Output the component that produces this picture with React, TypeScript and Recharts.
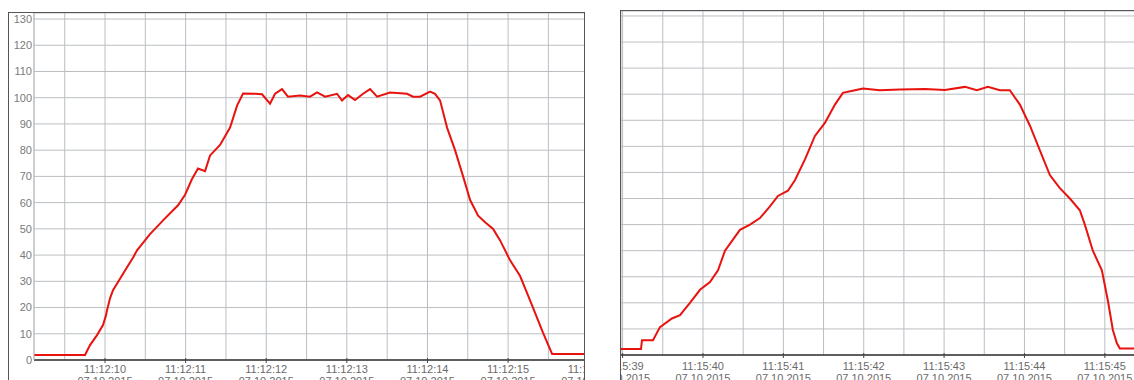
import React from 'react';
import { LineChart, Line, XAxis, YAxis, CartesianGrid } from 'recharts';

// left run, seconds of 11:12:xx
const leftTime = [
  9.119, 9.752, 9.814, 9.901, 9.975, 10.012, 10.025, 10.062, 10.099, 10.186, 10.273, 10.347, 10.397,
  10.558, 10.744, 10.906, 10.993, 11.079, 11.154, 11.241, 11.303, 11.427, 11.551, 11.638, 11.712,
  11.861, 11.948, 12.047, 12.109, 12.196, 12.27, 12.419, 12.543, 12.63, 12.73, 12.878, 12.94,
  13.015, 13.102, 13.201, 13.288, 13.375, 13.536, 13.747, 13.821, 13.908, 14.032, 14.094, 14.156,
  14.243, 14.342, 14.442, 14.529, 14.628, 14.715, 14.814, 14.901, 15.025, 15.149, 15.236, 15.335,
  15.434, 15.546, 16.5,
];
const leftValue = [
  1.9, 1.9, 5.7, 9.5, 13.3, 17, 19, 23.5, 26.6, 31, 35.4, 39, 41.8,
  48, 54, 59, 63, 69, 73, 72, 78, 82, 88.6, 97, 101.6,
  101.5, 101.3, 97.7, 101.5, 103.3, 100.4, 100.8, 100.4, 102, 100.4, 101.5, 98.9,
  101, 99.1, 101.5, 103.3, 100.4, 102, 101.5, 100.4, 100.4, 102.3, 101.5, 99,
  88.6, 80, 70, 61, 55, 52.5, 50, 45.6, 38, 32, 25.5, 18,
  10.3, 2.3, 2.3,
];

// right run, seconds of 11:15:xx
const rightTime = [
  38.98, 39.229, 39.241, 39.378, 39.465, 39.614, 39.714, 39.838, 39.963, 40.087, 40.187, 40.274,
  40.46, 40.585, 40.709, 40.833, 40.933, 41.057, 41.144, 41.269, 41.393, 41.517, 41.642, 41.741,
  41.891, 41.99, 42.201, 42.45, 42.761, 43.01, 43.259, 43.408, 43.545, 43.694, 43.818, 43.943,
  44.067, 44.192, 44.316, 44.44, 44.565, 44.689, 44.751, 44.851, 44.963, 45.037, 45.1, 45.149,
  45.187, 45.45,
];
const rightValue = [
  2.3, 2.3, 5.7, 5.7, 10.7, 14, 15.3, 20, 25, 28, 32.5, 40,
  48, 50, 52.5, 57, 61, 63, 67, 75, 84, 89, 96, 100.5,
  101.5, 102.2, 101.5, 101.8, 102, 101.6, 102.8, 101.5, 102.8, 101.5, 101.5, 96,
  88, 78.5, 69, 64, 60, 55.5, 50, 40, 32.5, 21, 9.6, 4.6,
  2.5, 2.5,
];

const yTicks = [0, 10, 20, 30, 40, 50, 60, 70, 80, 90, 100, 110, 120, 130];

const leftGridTicks = [9.5, 10, 10.5, 11, 11.5, 12, 12.5, 13, 13.5, 14, 14.5, 15, 15.5, 16, 16.5];
const leftLabelSeconds = [10, 11, 12, 13, 14, 15, 16];
const leftLabels = ['11:12:10', '11:12:11', '11:12:12', '11:12:13', '11:12:14', '11:12:15', '11:12:16'];

const rightGridTicks = [39, 39.5, 40, 40.5, 41, 41.5, 42, 42.5, 43, 43.5, 44, 44.5, 45];
const rightLabelSeconds = [39, 40, 41, 42, 43, 44, 45];
const rightLabels = ['11:15:39', '11:15:40', '11:15:41', '11:15:42', '11:15:43', '11:15:44', '11:15:45'];

const dateLabel = '07.10.2015';

const FONT = '"Liberation Sans", Arial, sans-serif';
const RED = '#e8130f';
const GRID = '#babec2';
const BORDER = '#555';

const zip = (t: number[], v: number[]) => t.map((time, i) => ({ t: time, v: v[i] }));
const leftData = zip(leftTime, leftValue);
const rightData = zip(rightTime, rightValue);

function makeTick(seconds: number[], labels: string[], dy: number) {
  return (props: any) => {
    const { x, y, payload } = props;
    const idx = seconds.indexOf(payload.value);
    if (idx < 0) return <g />;
    return (
      <g>
        <line x1={x} x2={x} y1={y - 2} y2={y + 3} stroke="#444" />
        <text x={x} y={y + 13 + dy} textAnchor="middle" fill="#6a6a6a" fontSize={11} fontFamily={FONT}>
          {labels[idx]}
        </text>
        <text x={x} y={y + 25 + dy} textAnchor="middle" fill="#6a6a6a" fontSize={11} fontFamily={FONT}>
          {dateLabel}
        </text>
      </g>
    );
  };
}

export default function App() {
  return (
    <div style={{ position: 'absolute', left: 0, top: 0, width: 1134, height: 380, overflow: 'hidden', background: '#fff' }}>
      <div
        style={{
          position: 'absolute', left: 8, top: 12, width: 577, height: 368, overflow: 'hidden',
          borderLeft: `1px solid ${BORDER}`, borderTop: `1px solid ${BORDER}`, borderRight: `1px solid ${BORDER}`,
          boxSizing: 'border-box',
        }}
      >
        <LineChart width={620} height={367} data={leftData} margin={{ top: 0, right: 0, bottom: 0, left: 0 }}>
          <CartesianGrid stroke={GRID} />
          <XAxis
            dataKey="t" type="number" domain={[9.119, 16.5]} ticks={leftGridTicks} allowDataOverflow
            height={20} tickSize={0} tickMargin={0} tickLine={false} interval={0}
            axisLine={{ stroke: '#333', strokeWidth: 1.5 }}
            tick={makeTick(leftLabelSeconds, leftLabels, 0)}
          />
          <YAxis
            type="number" domain={[0, 132.3]} ticks={yTicks} allowDataOverflow width={25} interval={0}
            tickSize={0} tickMargin={2} tickLine={false} axisLine={{ stroke: GRID }}
            tick={{ fill: '#7a7a7a', fontSize: 11, fontFamily: FONT }}
          />
          <Line dataKey="v" type="linear" stroke={RED} strokeWidth={2} dot={false} isAnimationActive={false} />
        </LineChart>
      </div>
      <div
        style={{
          position: 'absolute', left: 620, top: 10, width: 514, height: 370, overflow: 'hidden',
          borderLeft: `1px solid ${BORDER}`, borderTop: `1px solid ${BORDER}`, boxSizing: 'border-box',
        }}
      >
        <LineChart width={520} height={369} data={rightData} margin={{ top: 0, right: 0, bottom: 0, left: 0 }}>
          <CartesianGrid stroke={GRID} />
          <XAxis
            dataKey="t" type="number" domain={[38.98, 45.45]} ticks={rightGridTicks} allowDataOverflow
            height={25} tickSize={0} tickMargin={0} tickLine={false} interval={0}
            axisLine={{ stroke: '#333', strokeWidth: 1.5 }}
            tick={makeTick(rightLabelSeconds, rightLabels, 2)}
          />
          <YAxis hide type="number" domain={[0, 131.9]} ticks={yTicks} allowDataOverflow interval={0} />
          <Line dataKey="v" type="linear" stroke={RED} strokeWidth={2} dot={false} isAnimationActive={false} />
        </LineChart>
      </div>
    </div>
  );
}
